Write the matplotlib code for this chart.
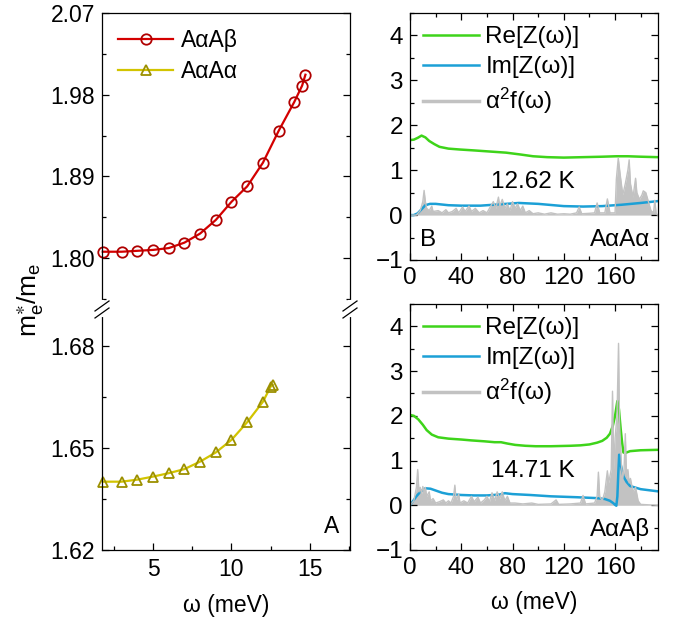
import matplotlib
matplotlib.use("Agg")
import matplotlib.pyplot as plt
from matplotlib.lines import Line2D
from matplotlib.ticker import MultipleLocator, FixedLocator

plt.rcParams['font.family'] = ['Liberation Sans', 'DejaVu Sans']
plt.rcParams['mathtext.fontset'] = 'custom'
plt.rcParams['mathtext.rm'] = 'Liberation Sans'
plt.rcParams['mathtext.it'] = 'Liberation Sans'

# ---------------- data: panel A ----------------
w_ab = [1.8, 3, 4, 5, 6, 7, 8, 9, 10, 11, 12, 13, 14, 14.5, 14.71]
m_ab = [1.807, 1.807, 1.808, 1.809, 1.811, 1.817, 1.827, 1.842, 1.862, 1.879,
        1.905, 1.940, 1.972, 1.990, 2.002]
w_aa = [1.8, 3, 4, 5, 6, 7, 8, 9, 10, 11, 12, 12.5, 12.62]
m_aa = [1.6401, 1.6401, 1.6407, 1.6416, 1.6426, 1.6438, 1.6460, 1.6487, 1.6524,
        1.6576, 1.6636, 1.6681, 1.6686]

# ---------------- data: panel B (AαAα) ----------------
wB_re = [0, 3, 6, 9, 12, 15, 19, 23, 30, 39, 50, 65, 75, 86, 96, 107, 120, 135, 150, 161, 170, 180, 193]
reB = [1.67, 1.68, 1.72, 1.77, 1.73, 1.65, 1.58, 1.52, 1.48, 1.46, 1.44, 1.41, 1.39, 1.35, 1.31, 1.29, 1.28, 1.29, 1.30, 1.31, 1.31, 1.30, 1.29]
wB_im = [0, 3, 6, 9, 12, 15.6, 20, 30, 40, 55, 70, 85, 100, 120, 135, 150, 165, 180, 193]
imB = [0, 0.0, 0.04, 0.13, 0.22, 0.25, 0.25, 0.22, 0.21, 0.21, 0.24, 0.27, 0.25, 0.2, 0.19, 0.2, 0.23, 0.27, 0.31]
wB_a2f = [0, 5, 8, 10, 11, 12, 13, 15, 17, 18, 22, 25, 28, 30, 33, 36, 38, 41, 43, 46, 48, 51, 54, 57, 60,
          63, 65, 67, 69, 70, 72, 74, 76, 78, 80, 82, 84, 86, 88, 90, 93, 96, 100, 105, 110, 115, 120, 125,
          130, 132, 134, 140, 144, 146, 148, 152, 154, 156, 160, 161, 162.5, 164, 166, 168, 170, 171, 172,
          174, 176, 177, 179, 181, 182, 184, 186, 188, 190, 191, 192, 193]
a2fB = [0, 0, 0.1, 0.3, 0.55, 0.3, 0.15, 0.1, 0.2, 0.08, 0.1, 0.05, 0.12, 0.05, 0.08, 0.15, 0.05, 0.18, 0.08, 0.2, 0.08, 0.15, 0.05, 0.1, 0.05,
        0.2, 0.3, 0.15, 0.4, 0.2, 0.35, 0.15, 0.25, 0.1, 0.3, 0.15, 0.25, 0.1, 0.2, 0.05, 0.1, 0.03, 0.05, 0.02, 0.05, 0.02, 0.03, 0.02,
        0.05, 0.18, 0.03, 0.04, 0.05, 0.27, 0.05, 0.05, 0.36, 0.05, 0.05, 0.8, 1.27, 0.9, 0.45, 0.7, 1.0, 1.23, 0.7,
        0.4, 0.82, 0.5, 0.35, 0.45, 0.54, 0.5, 0.3, 0.1, 0.05, 0.33, 0.05, 0.0]

# ---------------- data: panel C (AαAβ) ----------------
wC_re = [0, 3, 6.5, 10, 13, 17, 22, 30, 40, 48, 58, 66, 71, 76, 82, 90, 98, 110, 125, 133, 140, 146, 150, 153.5, 156, 158.2, 160, 161.8, 163, 164.4, 165.5, 166.5, 168, 171.7, 180, 193.8]
reC = [2.02, 2.0, 1.92, 1.80, 1.68, 1.58, 1.52, 1.49, 1.47, 1.45, 1.43, 1.41, 1.41, 1.38, 1.35, 1.33, 1.32, 1.32, 1.33, 1.34, 1.36, 1.40, 1.44, 1.51, 1.60, 1.77, 2.0, 2.33, 2.15, 1.70, 1.40, 1.18, 1.17, 1.21, 1.23, 1.24]
wC_im = [0, 2, 5, 8, 12, 16, 20, 25, 30, 40, 50, 60, 70, 74, 80, 93.7, 110, 130, 145.7, 152, 156, 158.5, 160, 161, 161.8, 162.5, 163.2, 164.5, 166.5, 169, 171.7, 180, 193.8]
imC = [0, 0.08, 0.2, 0.3, 0.38, 0.37, 0.33, 0.28, 0.25, 0.23, 0.22, 0.22, 0.24, 0.27, 0.25, 0.23, 0.2, 0.18, 0.16, 0.14, 0.1, 0.05, 0.01, -0.01, 0.2, 0.7, 1.13, 0.9, 0.65, 0.52, 0.43, 0.36, 0.31]
wC_a2f = [0, 3, 5, 6, 7, 8, 9, 10, 11, 12, 13, 15, 16, 18, 20, 23, 26, 28, 30, 32, 34, 35, 36, 38, 39, 42, 45, 48,
          50, 53, 55, 58, 60, 62, 64, 66, 68, 70, 72, 74, 76, 78, 82, 88, 95, 100, 110, 114, 116, 125, 133, 135, 137,
          144, 146, 147, 148, 150, 152, 154, 155, 157, 158, 159, 160, 161.5, 162.7, 163.5, 165, 166, 167, 168, 169,
          170, 171, 172, 174, 176, 178, 180, 193]
a2fC = [0, 0.1, 0.4, 0.8, 0.3, 0.4, 0.25, 0.42, 0.3, 0.4, 0.2, 0.3, 0.1, 0.15, 0.05, 0.08, 0.12, 0.05, 0.1, 0.05, 0.2, 0.45, 0.1, 0.25, 0.05, 0.1, 0.05, 0.2,
        0.08, 0.18, 0.05, 0.12, 0.2, 0.08, 0.28, 0.1, 0.3, 0.15, 0.3, 0.1, 0.2, 0.05, 0.05, 0.03, 0.05, 0.02, 0.03, 0.12, 0.02, 0.03, 0.05, 0.22, 0.03,
        0.05, 0.2, 0.74, 0.2, 0.1, 0.3, 0.77, 0.5, 0.8, 2.55, 0.8, 1.5, 2.0, 3.62, 1.8, 0.9, 0.6, 0.8, 1.6, 0.6,
        0.8, 0.5, 0.6, 0.3, 0.4, 0.1, 0.02, 0.0]

RED = '#d40000'
RED_EDGE = '#b00000'
YEL = '#d2c400'
YEL_EDGE = '#9c9000'
GREEN = '#3ed41a'
BLUE = '#1ca0d6'
GRAY = '#c2c2c2'
FS_L = 16.5
FS_R = 17.5

W, H = 688, 627
fig = plt.figure(figsize=(W / 100, H / 100), dpi=100)

def fr(x0, y0, x1, y1):
    return [x0 / W, 1 - y1 / H, (x1 - x0) / W, (y1 - y0) / H]

axT = fig.add_axes(fr(102, 13, 350, 308))
axBt = fig.add_axes(fr(102, 308, 350, 550))
axB = fig.add_axes(fr(410, 13, 658, 260))
axC = fig.add_axes(fr(410, 304, 658, 550))

def style(ax, fs, top=True, bottom=True):
    ax.tick_params(which='both', direction='in', left=True, right=True, top=top, bottom=bottom,
                   labelsize=fs, width=0.9)
    ax.tick_params(which='major', length=5)
    ax.tick_params(which='minor', length=3)
    for s in ax.spines.values():
        s.set_linewidth(0.9)

# ---- panel A ----
for ax in (axT, axBt):
    ax.set_xlim(1.75, 17.55)
    ax.xaxis.set_major_locator(MultipleLocator(5))
    ax.xaxis.set_minor_locator(MultipleLocator(2.5))

axT.plot(w_ab, m_ab, '-o', color=RED, lw=1.6, ms=7.5, mfc='none', mec=RED_EDGE, mew=1.3,
         label='AαAβ', clip_on=False)
axT.plot([], [], '-^', color=YEL, lw=1.6, ms=7.5, mfc='none', mec=YEL_EDGE, mew=1.3, label='AαAα')
axBt.plot(w_aa, m_aa, '-^', color=YEL, lw=1.6, ms=7.5, mfc='none', mec=YEL_EDGE, mew=1.3, clip_on=False)

axT.set_ylim(1.745, 2.07)
axT.yaxis.set_major_locator(FixedLocator([1.80, 1.89, 1.98, 2.07]))
axT.yaxis.set_minor_locator(FixedLocator([1.755, 1.845, 1.935, 2.025]))
axT.set_yticklabels(['1.80', '1.89', '1.98', '2.07'])
axBt.set_ylim(1.62, 1.6912)
axBt.yaxis.set_major_locator(FixedLocator([1.62, 1.65, 1.68]))
axBt.yaxis.set_minor_locator(FixedLocator([1.635, 1.665]))
axBt.set_yticklabels(['1.62', '1.65', '1.68'])

style(axT, FS_L, top=False, bottom=False)
style(axBt, FS_L, top=False, bottom=True)
axT.spines['bottom'].set_visible(False)
axBt.spines['top'].set_visible(False)
axT.tick_params(labelbottom=False)
axBt.tick_params(axis='x', pad=6)
axT.tick_params(axis='y', pad=5)
axBt.tick_params(axis='y', pad=5)

axT.legend(loc='upper left', frameon=False, fontsize=FS_L, handlelength=2.4, handletextpad=0.35,
           labelspacing=0.33, borderaxespad=0.3, bbox_to_anchor=(0.0, 1.0))
axBt.text(0.955, 0.05, 'A', transform=axBt.transAxes, ha='right', va='bottom', fontsize=FS_L)
axBt.set_xlabel('ω (meV)', fontsize=FS_L, labelpad=9)
fig.text(30 / W, 1 - 300 / H, r'$\mathregular{m_e^{\ast}/m_e}$', rotation=90, ha='center', va='center', fontsize=19)

# break marks
for xs in (102, 350):
    fig.add_artist(Line2D([xs / W, xs / W], [1 - 302 / H, 1 - 315 / H], color='white', lw=3,
                          transform=fig.transFigure))
    for dy in (0, 7):
        fig.add_artist(Line2D([(xs - 7) / W, (xs + 7) / W], [1 - (311 + dy) / H, 1 - (301 + dy) / H],
                              color='black', lw=0.9, transform=fig.transFigure))

# ---- panels B, C ----
def zpanel(ax, w_re, re, w_im, im, w_a, a, letter, name, tlabel, ty):
    ax.fill_between(w_a, 0, a, color=GRAY, lw=0)
    ax.plot(w_re, re, color=GREEN, lw=1.8, label='Re[Z(ω)]')
    ax.plot(w_im, im, color=BLUE, lw=1.8, label='Im[Z(ω)]')
    ax.plot(w_a, a, color=GRAY, lw=1.0)
    ax.plot([], [], color=GRAY, lw=2.5, label=r'$\mathregular{\alpha^2f(\omega)}$')
    ax.set_xlim(0, 193.5)
    ax.set_ylim(-1, 4.5)
    ax.xaxis.set_major_locator(MultipleLocator(40))
    ax.xaxis.set_minor_locator(MultipleLocator(20))
    ax.yaxis.set_major_locator(MultipleLocator(1))
    ax.yaxis.set_minor_locator(MultipleLocator(0.5))
    style(ax, FS_R)
    ax.tick_params(axis='x', pad=5)
    ax.tick_params(axis='y', pad=5)
    ax.legend(loc='upper left', frameon=False, fontsize=FS_R, handlelength=2.3, handletextpad=0.25,
              labelspacing=0.32, borderaxespad=0.15)
    ax.text(0.04, 0.035, letter, transform=ax.transAxes, ha='left', va='bottom', fontsize=FS_R)
    ax.text(0.97, 0.035, name, transform=ax.transAxes, ha='right', va='bottom', fontsize=FS_R)
    ax.text(96, ty, tlabel, ha='center', va='center', fontsize=FS_R)

zpanel(axB, wB_re, reB, wB_im, imB, wB_a2f, a2fB, 'B', 'AαAα', '12.62 K', 0.74)
zpanel(axC, wC_re, reC, wC_im, imC, wC_a2f, a2fC, 'C', 'AαAβ', '14.71 K', 0.77)
axC.set_xlabel('ω (meV)', fontsize=FS_L, labelpad=9)

fig.savefig('out.png', dpi=100)
